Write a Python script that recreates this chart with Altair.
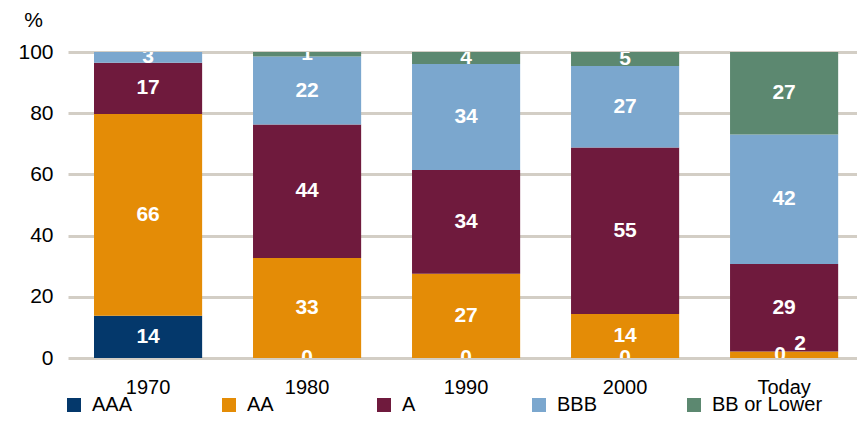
import altair as alt
import pandas as pd

categories = ["1970", "1980", "1990", "2000", "Today"]
series = ["AAA", "AA", "A", "BBB", "BB or Lower"]
colors = ["#04386B", "#E48C06", "#6F1A3D", "#7BA7CE", "#5C8870"]

aaa = [13.8, 0, 0, 0, 0]
aa = [65.9, 32.7, 27.5, 14.4, 2.1]
a = [16.8, 43.6, 33.9, 54.4, 28.6]
bbb = [3.5, 22.2, 34.7, 26.6, 42.3]
bb = [0, 1.5, 3.9, 4.6, 27.0]

lab_aaa = ["14", "0", "0", "0", "0"]
lab_aa = ["66", "33", "27", "14", "2"]
lab_a = ["17", "44", "34", "55", "29"]
lab_bbb = ["3", "22", "34", "27", "42"]
lab_bb = ["", "1", "4", "5", "27"]

values = [aaa, aa, a, bbb, bb]
labels = [lab_aaa, lab_aa, lab_a, lab_bbb, lab_bb]

rows = []
for j, s in enumerate(series):
    for i, c in enumerate(categories):
        rows.append({"cat": c, "series": s, "idx": j,
                     "value": values[j][i], "label": labels[j][i]})
df = pd.DataFrame(rows)

FONT = "Liberation Sans"

base = alt.Chart(df).transform_stack(
    stack="value", groupby=["cat"], as_=["y0", "y1"],
    sort=[alt.SortField("idx", order="ascending")]
).transform_calculate(mid="(datum.y0 + datum.y1) / 2")

xscale = alt.Scale(paddingInner=0.32, paddingOuter=0.141, align=0.58)
xenc = alt.X("cat:N", sort=categories, title=None, scale=xscale,
             axis=alt.Axis(domain=False, ticks=False, labelFontSize=20,
                           labelPadding=19, labelColor="#000000", labelAngle=0))
yscale = alt.Scale(domain=[0, 100], nice=False)
yaxis = alt.Axis(values=[0, 20, 40, 60, 80, 100], domain=False, ticks=False,
                 grid=True, gridColor="#D3CEC5", gridWidth=3,
                 labelFontSize=21, labelPadding=15, labelColor="#000000",
                 titleAngle=0, titleFontSize=21, titleFontWeight="normal",
                 titleX=-35, titleY=-32, titleAlign="center",
                 titleBaseline="middle", titleColor="#000000")

bars = base.mark_bar().encode(
    x=xenc,
    y=alt.Y("y0:Q", scale=yscale, title="%", axis=yaxis),
    y2="y1:Q",
    color=alt.Color("series:N", scale=alt.Scale(domain=series, range=colors),
                    legend=alt.Legend(title=None, orient="none", legendX=-4, legendY=343,
                                      direction="horizontal", columns=5, columnPadding=16,
                                      gridAlign="all", symbolType="square", symbolSize=196,
                                      symbolStrokeWidth=0, symbolOpacity=1,
                                      labelFontSize=20, labelOffset=8, labelColor="#000000")),
    order=alt.Order("idx:Q", sort="ascending"),
)

def text_layer(filt, dx=0, dy=0):
    return base.transform_filter(filt).mark_text(
        clip=True, color="white", fontWeight="bold", fontSize=21,
        baseline="middle", align="center", dx=dx, dy=dy, font=FONT
    ).encode(
        x=alt.X("cat:N", sort=categories, title=None),
        y=alt.Y("mid:Q", scale=yscale, title="%"),
        text="label:N",
    )

texts_main = text_layer("datum.label != '' && !(datum.cat == 'Today' && datum.idx <= 1)")
text_today0 = text_layer("datum.cat == 'Today' && datum.idx == 0", dx=-4, dy=-3)
text_today1 = text_layer("datum.cat == 'Today' && datum.idx == 1", dx=16, dy=-11)

chart = alt.layer(bars, texts_main, text_today0, text_today1).properties(
    width=789, height=306,
    autosize=alt.AutoSizeParams(type="none"),
    padding={"left": 60, "top": 44, "right": 0, "bottom": 59},
).configure(font=FONT).configure_view(stroke=None)

chart.save("out.html", embed_options={"renderer": "svg", "actions": False})
